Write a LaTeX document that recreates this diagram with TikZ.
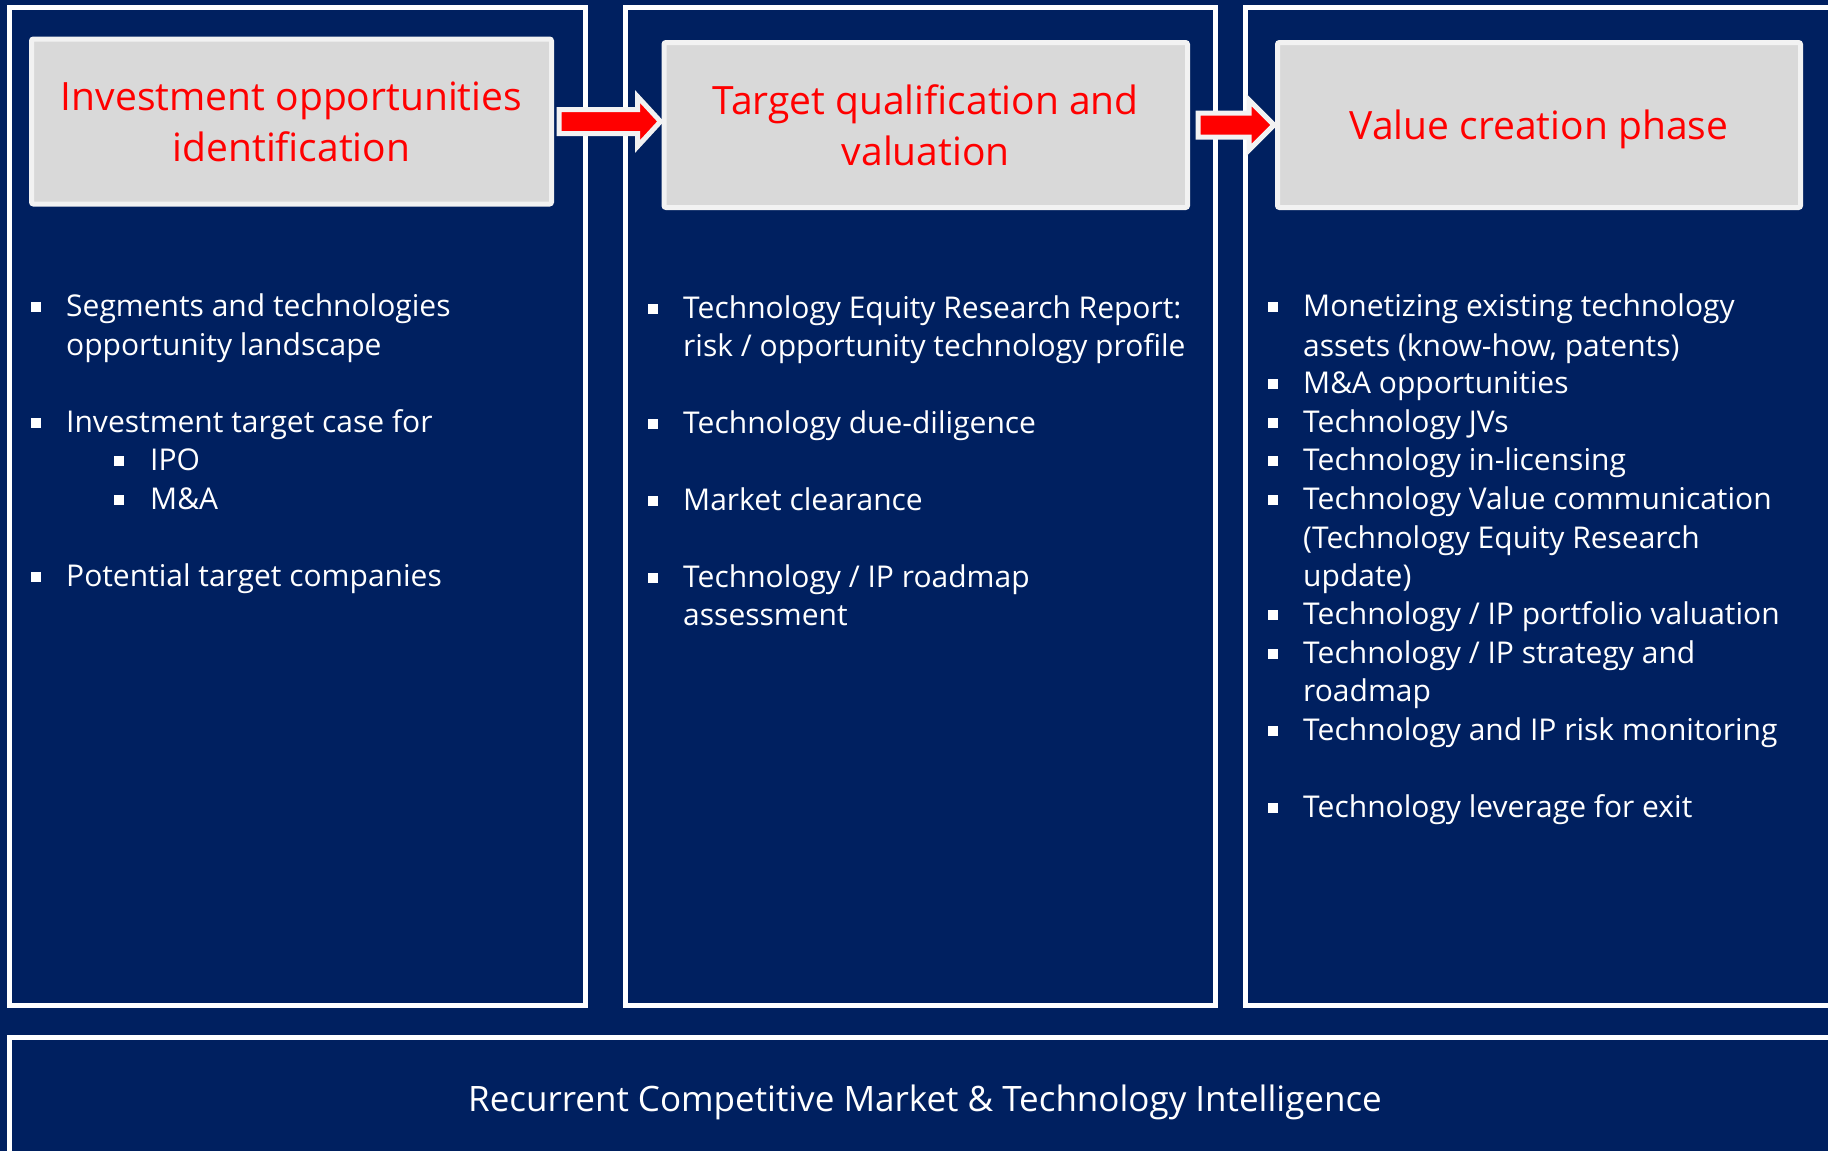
\documentclass[tikz,border=0pt]{standalone}
\usepackage{fontspec}
\setmainfont{Open Sans}
\usetikzlibrary{calc}
\definecolor{navy}{RGB}{0,32,96}
\definecolor{hdrfill}{RGB}{217,217,217}
\definecolor{hdrline}{RGB}{242,242,242}
\definecolor{arrred}{RGB}{255,0,0}
\tikzset{
  colbox/.style={draw=white, line width=5pt},
  hdr/.style={rectangle, fill=hdrfill, draw=hdrline, line width=5pt, rounded corners=2pt,
    inner sep=0pt, align=center, text=red, font=\fontsize{39}{51}\selectfont},
  barrow/.style={fill=arrred, draw=hdrline, line width=5pt, line join=miter},
  txt/.style={anchor=mid west, text=white, inner sep=0pt, yshift=-9pt, font=\fontsize{30}{38}\selectfont},
  bul/.style={rectangle, fill=white, minimum size=10pt, inner sep=0pt, yshift=-3.5pt},
  bottomtxt/.style={text=white, inner sep=0pt, font=\fontsize{35}{40}\selectfont}
}
\begin{document}
\begin{tikzpicture}[x=1pt,y=-1pt]
\useasboundingbox (0,0) rectangle (1828,1151);
\fill[navy] (0,0) rectangle (1828,1151);
% columns
\draw[colbox] (9.5,7.5) rectangle (585.5,1005.5);
\draw[colbox] (625.5,7.5) rectangle (1215.5,1005.5);
\draw[colbox] (1245.5,7.5) rectangle (1850,1005.5);
\draw[colbox] (9.5,1037.5) rectangle (1850,1175);
% headers
\node[hdr, minimum width=520pt, minimum height=165pt] (h1) at (291.5,121.5) {Investment opportunities\\identification};
\node[hdr, minimum width=523.5pt, minimum height=165pt] (h2) at (925.75,125) {Target qualification and\\valuation};
\node[hdr, minimum width=523pt, minimum height=165pt] (h3) at (1539,125) {\raisebox{-14.5pt}[0pt][0pt]{Value creation phase}};
% arrows
\draw[barrow] let \p1=(h1.east), \p2=(h2.west) in
  (\x1+5pt,\y1+12pt) -- (\x2-24pt,\y1+12pt) -- (\x2-24pt,\y1+25pt) -- (\x2-1pt,\y1)
  -- (\x2-24pt,\y1-25pt) -- (\x2-24pt,\y1-12pt) -- (\x1+5pt,\y1-12pt) -- cycle;
\draw[barrow] let \p1=(h2.east), \p2=(h3.west) in
  (\x1+8pt,\y2+12pt) -- (\x2-26pt,\y2+12pt) -- (\x2-26pt,\y2+25pt) -- (\x2-1pt,\y2)
  -- (\x2-26pt,\y2-25pt) -- (\x2-26pt,\y2-12pt) -- (\x1+8pt,\y2-12pt) -- cycle;
% column 1
\node[bul] (b11) at (36,303) {};
\node[txt] (t11a) at (66,305) {Segments and technologies};
\node[txt] (t11b) at (66,344) {opportunity landscape};
\node[bul] (b12) at (36,419) {};
\node[txt] (t12) at (66,421) {Investment target case for};
\node[bul] (b12a) at (119,457) {};
\node[txt] (t12a) at (150,459) {IPO};
\node[bul] (b12b) at (119,496) {};
\node[txt] (t12b) at (150,498) {M\&A};
\node[bul] (b13) at (36,573) {};
\node[txt] (t13) at (66,575) {Potential target companies};
% column 2
\node[bul] (b21) at (653,305) {};
\node[txt] (t21a) at (683,307) {Technology Equity Research Report:};
\node[txt] (t21b) at (683,345) {risk / opportunity technology profile};
\node[bul] (b22) at (653,420) {};
\node[txt] (t22) at (683,422) {Technology due-diligence};
\node[bul] (b23) at (653,497) {};
\node[txt] (t23) at (683,499) {Market clearance};
\node[bul] (b24) at (653,574) {};
\node[txt] (t24a) at (683,576) {Technology / IP roadmap};
\node[txt] (t24b) at (683,614) {assessment};
% column 3
\node[bul] (b31) at (1273,303) {};
\node[txt] (t31a) at (1303,305) {Monetizing existing technology};
\node[txt] (t31b) at (1303,345) {assets (know-how, patents)};
\node[bul] (b32) at (1273,380) {};
\node[txt] (t32) at (1303,382) {M\&A opportunities};
\node[bul] (b33) at (1273,419) {};
\node[txt] (t33) at (1303,421) {Technology JVs};
\node[bul] (b34) at (1273,457) {};
\node[txt] (t34) at (1303,459) {Technology in-licensing};
\node[bul] (b35) at (1273,496) {};
\node[txt] (t35a) at (1303,498) {Technology Value communication};
\node[txt] (t35b) at (1303,537) {(Technology Equity Research};
\node[txt] (t35c) at (1303,575) {update)};
\node[bul] (b36) at (1273,611) {};
\node[txt] (t36) at (1303,613) {Technology / IP portfolio valuation};
\node[bul] (b37) at (1273,650) {};
\node[txt] (t37a) at (1303,652) {Technology / IP strategy and};
\node[txt] (t37b) at (1303,690) {roadmap};
\node[bul] (b38) at (1273,727) {};
\node[txt] (t38) at (1303,729) {Technology and IP risk monitoring};
\node[bul] (b39) at (1273,804) {};
\node[txt] (t39) at (1303,806) {Technology leverage for exit};
% bottom
\node[bottomtxt] (bt) at (925,1102.5) {Recurrent Competitive Market \& Technology Intelligence};
\end{tikzpicture}
\end{document}
